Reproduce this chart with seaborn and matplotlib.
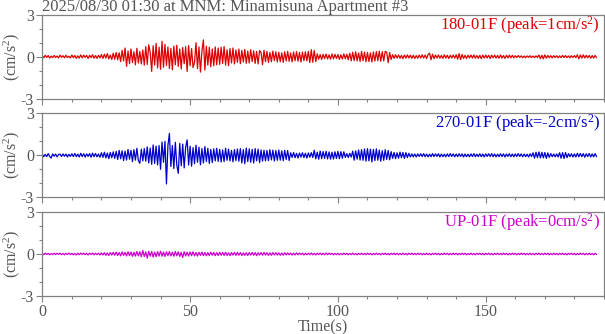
import numpy as np
import pandas as pd
import matplotlib
matplotlib.use("Agg")
import matplotlib.pyplot as plt
from matplotlib.ticker import MultipleLocator, FixedLocator, FuncFormatter
import seaborn as sns

# ---------------- data (cm/s^2, sampled every 0.5 s) ----------------
SAMPLE_INTERVAL = 0.5
TITLE = "2025/08/30 01:30 at MNM: Minamisuna Apartment #3"
CHANNELS = ["180-01F", "270-01F", "UP-01F"]
PEAKS = ["1", "-2", "0"]

ns_180 = [
    .06, -.08, .10, -.05, .08, -.10, .04, -.07, .09, -.06, .05, -.09, .11, -.04, .07, -.08, .10, -.06, .04, -.09,
    .12, -.07, .09, -.12, .06, -.10, .13, -.08, .11, -.05, .09, -.13, .10, -.07, .14, -.11, .08, -.12, .10, -.09,
    .15, -.12, .18, -.10, .22, -.16, .12, -.20, .25, -.18, .30, -.22, .28, -.35, .45, -.30, .62, -.69, .40, -.50,
    .55, -.42, .35, -.58, .60, -.45, .38, -.52, .48, -.60, .72, -.55, .85, .30, -1.05, .78, -.60, .95, -.80, .68,
    -.90, 1.10, -.75, .88, -.62, .70, -.85, .60, -.93, .75, -.58, .82, -.70, .55, -.88, .66, -.50, .72, -1.05, .80,
    -.65, .58, -.78, -.40, 1.00, -.85, .70, -1.10, .40, 1.20, -.95, .75, -.60, .68, -.72, .55, -.65, .70, -.58, .62,
    -.55, .68, -.48, .72, -.60, .50, -.65, .58, -.45, .62, -.52, .48, -.40, .55, -.50, .45, -.38, .52, -.47, .40,
    -.45, .50, -.35, .42, -.48, .38, -.52, .44, .30, -.57, .46, -.35, .38, -.42, .30, -.36, .40, -.28, .35, -.38,
    .32, -.36, .28, -.40, .35, -.30, .38, -.33, .27, -.37, .34, -.29, .36, -.32, .30, -.38, .33, -.28, .35, -.30,
    .38, -.42, .50, -.40, .45, -.35, .20, -.18, .15, -.20, .17, -.14, .19, -.16, .13, -.18, .20, -.15, .17, -.13,
    .16, -.19, .14, -.17, .20, -.15, .18, -.22, .25, -.30, .32, -.28, .35, -.30, .27, -.34, .38, -.29, .33, -.36,
    .30, -.35, .28, -.38, .34, -.31, .37, -.29, .40, -.33, .36, -.30, .38, .32, -.43, .30, -.20, .15, -.12, .14,
    -.10, .13, -.11, .09, -.14, .12, -.10, .13, -.09, .11, -.12, .10, -.13, .08, -.11, .12, -.09, .14, -.10, .12,
    -.13, .15, .25, -.22, .18, -.14, .12, -.10, .13, -.11, .09, -.12, .14, -.10, .11, -.13, .10, -.09, .12, -.11,
    .14, -.18, .22, -.20, .16, -.12, .10, -.13, .11, -.09, .12, -.10, .13, -.11, .09, -.12, .10, -.14, .11, -.10,
    .12, -.09, .10, -.13, .11, -.08, .12, -.10, .09, -.11, .13, -.10, .08, -.12, .10, -.09, .11, -.08, .10, -.09,
    .07, -.06, .08, -.05, .06, -.07, .05, -.08, .06, -.05, .07, -.06, .05, -.07, .06, -.05, .12, -.14, .10, -.15,
    .13, -.11, .09, -.08, .07, -.09, .08, -.06, .07, -.08, .06, -.07, .09, -.06, .08, -.07, .06, -.08, .07, -.06,
    .08, -.07, .14, -.15, .12, -.10, .13, -.09, .10, -.08, .09, -.11, .08, -.10, .09, -.07,
]

ew_270 = [
    .08, -.10, .06, -.09, .12, -.08, -.20, .10, -.07, .09, -.11, .06, .08, -.09, .10, -.07, .09, -.12, .07, -.08,
    .11, -.09, .13, -.10, .08, -.12, .14, -.09, .11, -.13, .10, -.08, .12, -.14, .15, -.10, .13, -.11, .09, -.14,
    .18, -.15, .22, -.19, .16, -.24, .20, -.18, .25, -.22, .28, -.30, .35, -.25, .32, -.38, .30, -.34, .42, -.28,
    .36, -.45, .40, -.35, .50, -.38, -.57, .44, -.40, .48, -.42, .60, -.55, .52, -.65, .74, -.58, .66, -.69, .70,
    -1.00, .95, -.50, 1.00, -2.05, .70, 1.57, -.80, .70, -.95, .93, -.70, -1.29, .85, -.75, .80, -.90, .60, 1.10, -.70,
    .65, -.78, .55, -.60, .72, -.50, .58, -.68, .48, -.55, .62, -.45, .50, -.58, .42, -.52, .46, -.40, .50, -.44,
    .42, -.48, .38, -.45, .50, -.36, .44, -.40, .35, -.47, .41, -.38, .45, -.42, .48, -.55, .40, -.60, .52, -.45,
    .46, -.50, .42, -.55, .48, -.40, .44, -.52, .38, -.42, .36, -.40, .35, -.38, .40, -.33, .37, -.41, .34, -.36,
    .38, -.35, .32, -.39, .36, -.30, .34, -.37, .18, -.15, .20, -.17, .14, -.19, .16, -.13, .18, -.16, .15, -.20,
    .17, -.14, .19, -.16, .36, -.25, .22, -.28, .30, -.24, .27, -.22, .29, -.26, .24, -.28, .22, -.27, .25, -.23,
    .28, -.24, .26, -.21, .25, -.15, .12, -.16, .14, -.13, .30, -.35, .32, -.28, .38, -.34, .40, -.36, .45, -.42,
    .48, -.40, .44, -.48, .42, -.38, .46, -.35, .37, -.42, .33, -.36, .40, -.30, .35, -.32, .26, -.22, .20, -.24,
    .18, -.21, .23, -.17, .20, -.22, .19, -.16, .14, -.12, .10, -.11, .09, -.12, .10, -.08, .11, -.09, .12, -.10,
    .09, -.11, .08, -.10, .12, -.09, .10, -.08, .11, -.12, .09, -.10, .08, -.11, .10, -.09, .12, -.08, .10, -.11,
    .09, -.10, .11, -.08, .10, -.12, .09, -.10, .08, -.11, .10, -.09, .12, -.10, .08, -.09, .11, -.10, .09, -.12,
    .10, -.08, .11, -.09, .12, -.10, .09, -.11, .08, -.10, .11, -.09, .10, -.12, .09, -.08, .11, -.10, .09, -.11,
    .10, -.09, .12, -.08, .10, -.11, .09, -.10, .08, -.12, .11, -.09, .18, -.20, .22, -.17, .24, -.19, .21, -.18,
    .20, -.22, .17, -.15, .12, -.10, .09, -.11, .10, -.12, .18, -.21, .19, -.23, .20, -.17, .12, -.10, .11, -.13,
    .10, -.12, .14, -.11, .13, -.10, .12, -.14, .11, -.09, .13, -.12, .10, -.11, .12, -.10,
]

ud_up = [
    .04, -.05, .06, -.04, .05, -.06, .03, -.05, .06, -.04, .05, -.03, .06, -.05, .04, -.06, .05, -.04, .07, -.05,
    .05, -.06, .04, -.07, .06, -.05, .07, -.04, .06, -.05, .05, -.07, .06, -.04, .07, -.06, .05, -.05, .06, -.07,
    .08, -.07, .09, -.10, .08, -.11, .10, -.08, .12, -.09, .14, -.11, .10, -.13, .15, -.10, .12, -.14, .16, -.12,
    .14, -.17, .12, -.15, .18, -.13, .16, -.20, .25, -.18, .15, -.30, .20, -.16, .18, -.22, .14, -.19, .17, -.15,
    .20, -.16, .14, -.18, .15, -.12, .17, -.14, .13, -.16, .18, -.13, .15, -.17, .12, -.25, .16, -.14, .13, -.15,
    .14, -.12, .16, -.13, .11, -.15, .12, -.10, .14, -.12, .11, -.13, .10, -.12, .13, -.09, .11, -.12, .10, -.11,
    .12, -.09, .11, -.10, .13, -.11, .09, -.12, .10, -.08, .11, -.10, .12, -.09, .10, -.11, .08, -.10, .09, -.11,
    .10, -.08, .11, -.09, .10, -.12, .09, -.08, .10, -.09, .11, -.08, .09, -.10, .08, -.09, .10, -.07, .09, -.08,
    .08, -.09, .07, -.08, .09, -.07, .08, -.06, .07, -.08, .06, -.07, .08, -.06, .07, -.05, .06, -.07, .05, -.06,
    .06, -.05, .07, -.06, .05, -.07, .06, -.05, .07, -.06, .05, -.06, .07, -.05, .06, -.04, .05, -.06, .04, -.05,
    .05, -.06, .04, -.05, .06, -.04, .05, -.06, .04, -.05, .06, -.05, .04, -.06, .05, -.04, .06, -.05, .04, -.05,
    .06, -.04, .05, -.06, .04, -.05, .06, -.05, .04, -.06, .05, -.04, .06, -.05, .04, -.06, .05, -.04, .06, -.05,
    .05, -.06, .04, -.05, .06, -.05, .04, -.06, .05, -.04, .06, -.05, .04, -.05, .06, -.04, .05, -.06, .04, -.05,
    .06, -.05, .04, -.06, .05, -.04, .06, -.05, .05, -.06, .04, -.05, .06, -.04, .05, -.06, .04, -.05, .06, -.04,
    .05, -.06, .04, -.05, .06, -.04, .05, -.06, .04, -.05, .06, -.05, .04, -.06, .05, -.04, .06, -.05, .04, -.06,
    .05, -.04, .06, -.05, .04, -.06, .05, -.04, .06, -.05, .04, -.05, .06, -.04, .05, -.06, .04, -.05, .06, -.04,
    .05, -.06, .04, -.05, .06, -.04, .05, -.06, .04, -.05, .06, -.05, .04, -.06, .05, -.04, .06, -.05, .04, -.05,
    .06, -.04, .05, -.06, .04, -.05, .06, -.05, .04, -.06, .05, -.04, .06, -.05, .04, -.06, .05, -.04, .06, -.05,
    .05, -.06, .04, -.05, .06, -.04, .05, -.06, .04, -.05, .06, -.05, .04, -.06, .05, -.04,
]

COLORS = ["#dd0000", "#0000cc", "#cc00cc"]
Y_TICKS = [-3, 0, 3]
X_TICKS = [0, 50, 100, 150]

# ---------------- style ----------------
sns.set_style("ticks")
plt.rcParams["font.family"] = ["Liberation Serif", "DejaVu Serif"]
plt.rcParams["mathtext.fontset"] = "custom"
plt.rcParams["mathtext.rm"] = "Liberation Serif"
plt.rcParams["mathtext.it"] = "Liberation Serif:italic"
GRAY = "#808080"
TXT = "#555555"
FS = 12
TFS = 11.5

fig = plt.figure(figsize=(6.05, 3.34), dpi=100)
left, width = 0.0699, 0.9284
bottoms = [0.7045, 0.4093, 0.1138]
height = 0.2515

series = [ns_180, ew_270, ud_up]
for k, (vals, col, ch, pk) in enumerate(zip(series, COLORS, CHANNELS, PEAKS)):
    ax = fig.add_axes([left, bottoms[k], width, height])
    df = pd.DataFrame({"t": np.arange(len(vals)) * SAMPLE_INTERVAL, "a": vals})
    sns.lineplot(data=df, x="t", y="a", ax=ax, color=col, lw=0.9,
                 estimator=None, sort=False)
    ax.set_xlim(0, 190)
    ax.set_ylim(-3, 3)
    ax.xaxis.set_major_locator(FixedLocator(X_TICKS))
    ax.xaxis.set_minor_locator(MultipleLocator(10))
    ax.yaxis.set_major_locator(FixedLocator(Y_TICKS))
    ax.yaxis.set_minor_locator(MultipleLocator(1))
    ax.yaxis.set_major_formatter(FuncFormatter(lambda v, p: "%d" % v))
    ax.tick_params(which="major", direction="out", length=4, width=0.8,
                   color=GRAY, labelcolor=TXT, labelsize=TFS, pad=2)
    ax.tick_params(which="minor", direction="out", length=2.2, width=0.8, color=GRAY)
    for s in ax.spines.values():
        s.set_color(GRAY)
        s.set_linewidth(0.9)
    ax.set_ylabel("(cm/s$^{2}$)", color=TXT, fontsize=TFS)
    ax.yaxis.set_label_coords(-0.036, 0.5)
    ax.set_xlabel("")
    if k < 2:
        ax.tick_params(axis="x", labelbottom=False)
    else:
        ax.set_xlabel("Time(s)", color=TXT, fontsize=TFS, labelpad=-1)
    ax.annotate("%s (peak=%scm/s$^{2}$)" % (ch, pk), xy=(1, 1), xycoords="axes fraction",
                xytext=(-3, -10.5), textcoords="offset points", ha="right",
                va="baseline", color=col, fontsize=FS)
    if k == 0:
        ax.annotate(TITLE, xy=(0, 1), xycoords="axes fraction", xytext=(0, 2.8),
                    textcoords="offset points", ha="left", va="baseline",
                    color=TXT, fontsize=FS)

fig.savefig("out.png", dpi=100)
